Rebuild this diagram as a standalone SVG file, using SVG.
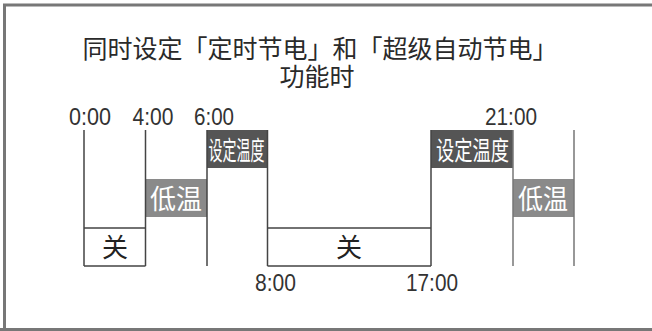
<svg xmlns="http://www.w3.org/2000/svg" width="652" height="331" viewBox="0 0 652 331">
<style>
.cjk{font-family:"Noto Sans CJK SC","Noto Sans",sans-serif;}
.title{font-size:25px;fill:#2a2a2a;text-anchor:middle;}
.time{font-family:"Liberation Sans",Arial,sans-serif;font-size:24.5px;fill:#333;text-anchor:middle;}
.line{stroke:#444;stroke-width:1.5;fill:none;}
.line2{stroke:#777;stroke-width:1.5;fill:none;}
.dark{fill:#555;}
.mid{fill:#8a8a8a;}
.wt{fill:#fff;text-anchor:middle;}
.bk{fill:#222;text-anchor:middle;font-size:26px;}
</style>
<rect x="0" y="0" width="652" height="331" fill="#fff"/>
<path d="M4.5 331 V5 H652 M0 329.5 H652" stroke="#777" stroke-width="3" fill="none"/>
<g id="title">
<text class="cjk title" x="320" y="58">同时设定「定时节电」和「超级自动节电」</text>
<text class="cjk title" x="317" y="86">功能时</text>
</g>
<g id="times">
<text class="time" x="90" y="125" textLength="42" lengthAdjust="spacingAndGlyphs">0:00</text>
<text class="time" x="153" y="125" textLength="41" lengthAdjust="spacingAndGlyphs">4:00</text>
<text class="time" x="214" y="125" textLength="40" lengthAdjust="spacingAndGlyphs">6:00</text>
<text class="time" x="275.5" y="290.5" textLength="41" lengthAdjust="spacingAndGlyphs">8:00</text>
<text class="time" x="432" y="290.5" textLength="52" lengthAdjust="spacingAndGlyphs">17:00</text>
<text class="time" x="511" y="125" textLength="52" lengthAdjust="spacingAndGlyphs">21:00</text>
</g>
<g id="set1">
<rect class="dark" x="207" y="130" width="60" height="38"/>
<text class="cjk wt" x="236.5" y="159.5" font-size="26" textLength="56" lengthAdjust="spacingAndGlyphs">设定温度</text>
</g>
<g id="set2">
<rect class="dark" x="431" y="130" width="82" height="38"/>
<text class="cjk wt" x="472.5" y="159.5" font-size="26" textLength="73" lengthAdjust="spacingAndGlyphs">设定温度</text>
</g>
<g id="low1">
<rect class="mid" x="145" y="179" width="62" height="38"/>
<text class="cjk wt" x="176" y="209" font-size="27" textLength="52" lengthAdjust="spacingAndGlyphs">低温</text>
</g>
<g id="low2">
<rect class="mid" x="513" y="179" width="61" height="38"/>
<text class="cjk wt" x="543" y="209" font-size="27" textLength="50" lengthAdjust="spacingAndGlyphs">低温</text>
</g>
<g id="off1">
<text class="cjk bk" x="115" y="257">关</text>
</g>
<g id="off2">
<text class="cjk bk" x="349" y="257">关</text>
</g>
<g id="connectors">
<path class="line" d="M84 130 V266 M145.5 130 V266 M207 130 V266 M267.5 130 V266 M431 130 V266"/>
<path class="line" d="M84 228 H145.5 M84 266 H145.5 M267.5 228 H431 M267.5 266 H431"/>
<path class="line2" d="M513 130 V266 M574 130 V266"/>
</g>
</svg>
